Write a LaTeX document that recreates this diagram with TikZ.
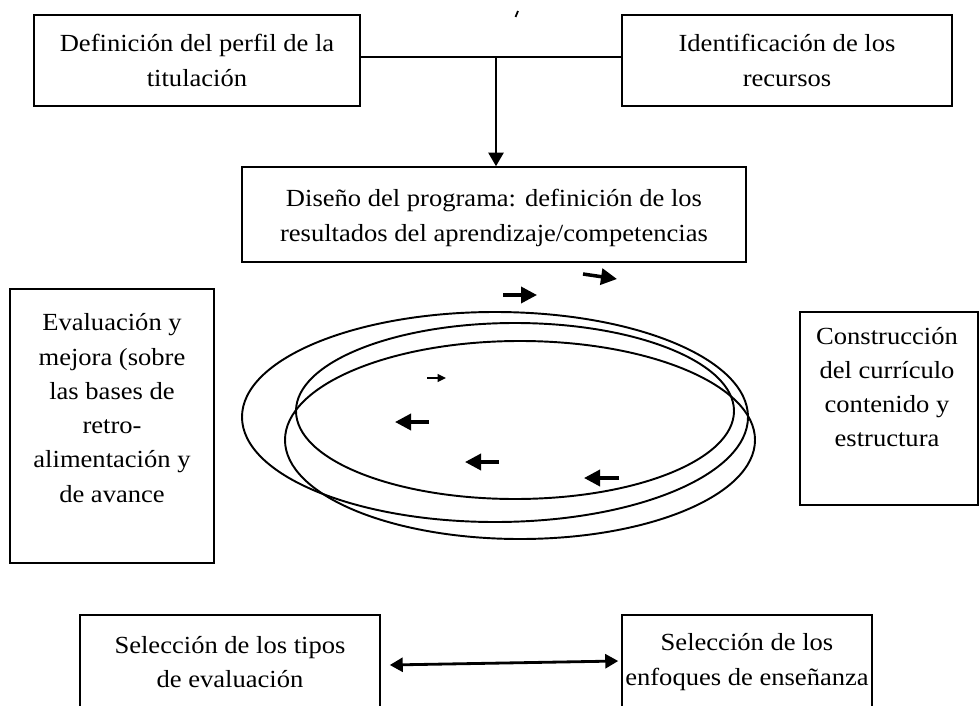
\documentclass[tikz,border=0pt]{standalone}
\usepackage{fontspec}
\setmainfont{Liberation Serif}[FakeStretch=1.08]
\usetikzlibrary{arrows.meta,calc}
\begin{document}
\begin{tikzpicture}[x=0.02cm,y=-0.02cm,
  box/.style={draw,line width=0.9pt,inner sep=0pt,align=center,
    font=\fontsize{14}{19.5}\selectfont},
  lbl/.style={align=center,inner sep=0pt,font=\fontsize{14}{19.5}\selectfont},
  conn/.style={line width=1.3pt,-{Triangle[length=0.27cm,width=0.3cm]}},
  dblconn/.style={line width=1.6pt,{Triangle[length=0.26cm,width=0.28cm]}-{Triangle[length=0.26cm,width=0.28cm]}},
  cyc/.style={line width=2pt,-{Triangle[length=0.32cm,width=0.32cm]}},
  cycsmall/.style={line width=0.9pt,-{Triangle[length=0.17cm,width=0.16cm]}},
  ring/.style={line width=1.1pt}]
\useasboundingbox (0,0) rectangle (980,706);
\clip (0,0) rectangle (980,706);
\fill[white] (0,0) rectangle (980,706);

% top boxes
\node[box,minimum width=6.52cm,minimum height=1.82cm] (deftit) at (197,60.5)
  {Definición del perfil de la\\titulación};
\node[box,minimum width=6.6cm,minimum height=1.82cm] (ident) at (787,60.5)
  {Identificación de los\\recursos};
\coordinate (junction) at (496,57);
\draw[line width=1pt] ($(deftit.east)+(0,-3.5)$) -- ($(ident.west)+(0,-3.5)$);
\draw[line width=1pt] (515.5,17) -- (518,11);

% middle box
\node[box,minimum width=10.08cm,minimum height=1.9cm] (diseno) at (494,214.5) {};
\node[lbl] (disenotext) at (494,218)
  {Diseño del programa: definición de los\\resultados del aprendizaje/competencias};
\draw[conn] (junction) -- (junction |- diseno.north);

% side boxes
\node[box,minimum width=4.08cm,minimum height=5.48cm] (evalbox) at (112,426) {};
\node[lbl] (evaltext) at (112,408)
  {Evaluación y\\mejora (sobre\\las bases de\\retro-\\alimentación y\\de avance};
\node[box,minimum width=3.56cm,minimum height=3.86cm] (constr) at (889,408.5) {};
\node[lbl] (constrtext) at (887,387)
  {Construcción\\del currículo\\contenido y\\estructura};

% ellipses
\draw[ring] (495,417) ellipse [x radius=253, y radius=105];
\draw[ring] (515,411) ellipse [x radius=219, y radius=88];
\draw[ring] (520,440) ellipse [x radius=235, y radius=99];

% cycle arrows
\draw[cyc] (503,295) -- (537,295);
\draw[cyc] (583,274) -- (617,279);
\draw[cycsmall] (427,378) -- (446,378);
\draw[cyc] (429,422) -- (395,422);
\draw[cyc] (499,462) -- (465,462);
\draw[cyc] (619,478) -- (584,478);

% bottom boxes
\node[box,minimum width=6cm,minimum height=1.88cm] (seltipos) at (230,662)
  {Selección de los tipos\\de evaluación};
\node[box,minimum width=5.0cm,minimum height=1.88cm] (selenf) at (747,662)
  {Selección de los\\enfoques de enseñanza};
\draw[dblconn] ($(seltipos.east)+(9,3)$) -- ($(selenf.west)+(-3,-1)$);
\end{tikzpicture}
\end{document}
